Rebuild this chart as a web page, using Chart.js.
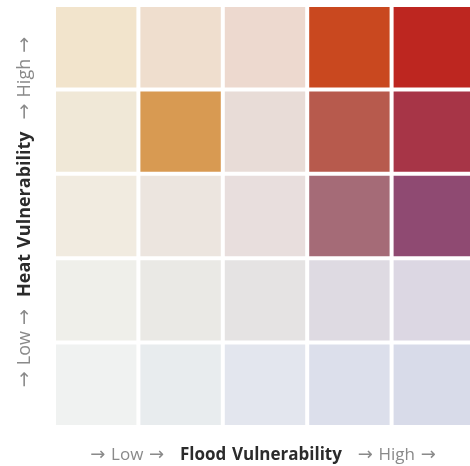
<!DOCTYPE html>
<html>
<head>
<meta charset="utf-8">
<script src="https://cdn.jsdelivr.net/npm/chart.js@4.4.1/dist/chart.umd.min.js"></script>
<style>
  html, body { margin: 0; padding: 0; background: #ffffff; overflow: hidden; }
  #wrap { width: 476px; height: 466px; }
</style>
</head>
<body>
<div id="wrap"><canvas id="c" width="476" height="466"></canvas></div>
<script>
// Flood vulnerability classes (x, low -> high)
const floodLevels = ['1', '2', '3', '4', '5'];
// Heat vulnerability classes (y, low -> high)
const heatLevels = ['1', '2', '3', '4', '5'];
// Each cell occupies one unit in its stacked column
const cellUnits = [1, 1, 1, 1, 1];
// Axis title pieces
const xTitleParts = ['→ Low → ', 'Flood Vulnerability', ' → High →'];
const yTitleParts = ['→ Low → ', 'Heat Vulnerability', ' → High →'];
// Cell colours, rows from low heat (bottom) to high heat (top), columns low -> high flood
const palette = [
  ['#f0f2f1', '#e8ecee', '#e3e6ee', '#dcdfeb', '#d8dbe9'],
  ['#efefea', '#eae9e5', '#e5e3e3', '#dedae2', '#dcd7e3'],
  ['#f1ebe0', '#ece5df', '#e8dedd', '#a56b77', '#8f4a72'],
  ['#f0e8d7', '#d89a52', '#e8dcd7', '#b75a4d', '#a73547'],
  ['#f2e4cc', '#efdece', '#edd9cf', '#c9481f', '#bd2620']
];

const datasets = heatLevels.map((h, i) => ({
  label: 'Heat ' + h,
  data: cellUnits.slice(),
  backgroundColor: palette[i],
  borderColor: '#ffffff',
  borderWidth: 2,
  borderSkipped: false,
  inflateAmount: 0,
  categoryPercentage: 1,
  barPercentage: 1
}));

const FONT = '"Open Sans", "Noto Sans", sans-serif';
const ARROW_FONT = '"DejaVu Sans", sans-serif';

function runsOf(text, bold, size) {
  const runs = [];
  let buf = '';
  const txtFont = (bold ? 'bold ' : '') + size + 'px ' + FONT;
  const arrFont = (size + 1) + 'px ' + ARROW_FONT;
  for (const ch of text) {
    if (ch === '→' || ch === ' ') {
      if (buf) runs.push({ t: buf, f: txtFont });
      buf = '';
      runs.push({ t: ch, f: arrFont });
    } else buf += ch;
  }
  if (buf) runs.push({ t: buf, f: txtFont });
  return runs;
}

function drawParts(ctx, parts, cx, cy, size, gap) {
  const groups = parts.map((p, i) => {
    const runs = runsOf(p, i === 1, size);
    runs.forEach(r => { ctx.font = r.f; r.w = ctx.measureText(r.t).width; });
    return { runs, w: runs.reduce((a, r) => a + r.w, 0), color: i === 1 ? '#2b2b2b' : '#8a8a8a' };
  });
  const total = groups.reduce((a, g) => a + g.w, 0) + gap * (groups.length - 1);
  let x = cx - total / 2;
  ctx.textBaseline = 'middle';
  ctx.textAlign = 'left';
  groups.forEach(g => {
    ctx.fillStyle = g.color;
    g.runs.forEach(r => {
      ctx.font = r.f;
      ctx.fillText(r.t, x, cy);
      x += r.w;
    });
    x += gap;
  });
}

const titlesPlugin = {
  id: 'axisTitles',
  afterDraw(chart) {
    const ctx = chart.ctx;
    const a = chart.chartArea;
    ctx.save();
    drawParts(ctx, xTitleParts, (a.left + a.right) / 2 - 2, a.bottom + 28, 17, 10);
    ctx.translate(25, (a.top + a.bottom) / 2 - 4);
    ctx.rotate(-Math.PI / 2);
    drawParts(ctx, yTitleParts, 0, 0, 18, 6);
    ctx.restore();
  }
};

new Chart(document.getElementById('c'), {
  type: 'bar',
  data: { labels: floodLevels, datasets },
  options: {
    responsive: false,
    animation: false,
    layout: { padding: { left: 54, top: 5, right: 0, bottom: 39 } },
    plugins: { legend: { display: false }, tooltip: { enabled: false } },
    scales: {
      x: { stacked: true, display: false, grid: { display: false } },
      y: { stacked: true, display: false, min: 0, max: 5, grid: { display: false } }
    }
  },
  plugins: [titlesPlugin]
});
</script>
</body>
</html>
